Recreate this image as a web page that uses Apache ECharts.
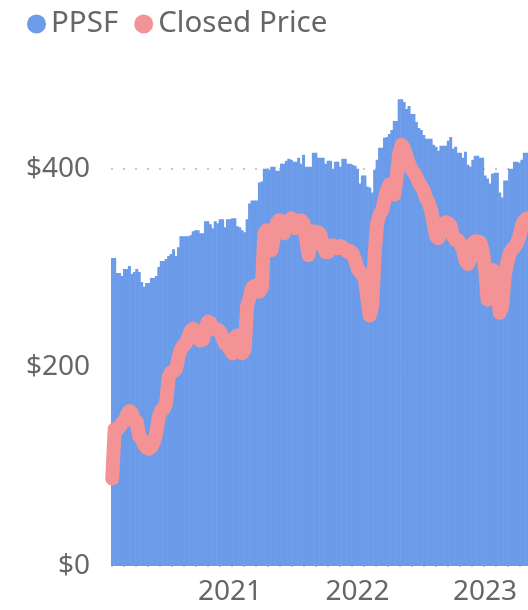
<!DOCTYPE html>
<html>
<head>
	<meta charset="utf-8">
	<script src="https://cdn.jsdelivr.net/npm/echarts@6/dist/echarts.min.js"></script>
	<style>
	   html,body{margin:0;padding:0;background:#fff;}
	   #chart{width:528px;height:610px;}
	</style>
	<title>PPSF</title>
</head>
<body>
	<div id="chart"></div>
	<script type="text/javascript">
		// weekly buckets, first week starts 2020-02-02
		var firstWeek = '2020-02-02';
		var yTicks = [0, 200, 400, 600];

		// price per square foot (bars)
		var ppsf = [310,310,295,295,292,299,299,302,294,296,
			299,296,286,281,285,285,290,290,292,301,
			307,307,309,312,314,319,312,321,332,332,
			332,332,333,337,338,338,335,335,347,347,
			344,340,347,345,349,349,341,349,349,350,
			350,342,341,338,336,349,365,368,368,368,
			386,387,400,400,399,402,402,398,398,405,
			405,408,410,409,407,407,411,405,414,402,
			402,402,416,416,411,411,411,405,408,408,
			400,407,407,402,410,410,405,405,404,403,
			400,385,393,393,382,381,376,399,409,421,
			421,431,432,435,439,448,448,470,470,467,
			460,463,455,455,447,441,439,434,430,430,
			430,424,422,418,423,423,423,428,432,420,
			422,416,416,411,417,404,402,409,413,413,
			411,411,393,390,385,395,396,396,376,371,
			388,388,400,400,407,407,406,409,416,416];

		// closed price (line)
		var closedPrice = [88,138,137,140,144,146,152,156,154,146,
			145,131,128,122,119,118,120,125,135,150,
			157,158,165,190,195,196,198,210,218,222,
			224,230,237,239,236,229,227,228,240,246,
			245,240,238,238,236,230,224,222,218,214,
			230,232,222,214,218,262,270,280,282,281,
			276,280,335,338,320,318,332,345,348,347,
			335,342,348,350,342,340,345,348,345,330,
			313,325,337,336,336,333,322,316,316,320,
			323,320,320,322,321,318,316,317,315,308,
			300,296,294,288,270,252,262,315,345,354,
			358,368,378,384,382,374,392,415,424,420,
			412,405,399,396,392,386,382,378,370,366,
			358,345,332,330,338,344,346,345,342,332,
			328,328,324,318,308,304,310,325,327,327,
			326,318,300,268,290,298,296,278,255,262,
			292,305,314,319,321,325,332,343,348,350];

		// build the week labels from the first week
		var weeks = [];
		var t0 = Date.parse(firstWeek + 'T00:00:00Z');
		for (var i = 0; i < ppsf.length; i++) {
			weeks.push(new Date(t0 + i * 7 * 86400000).toISOString().slice(0, 10));
		}

		var font = "'Segoe UI', 'Noto Sans', sans-serif";
		var myChart = echarts.init(document.getElementById('chart'));

		var option = {
			animation: false,
			legend: {
				left: 22,
				top: 4,
				icon: 'circle',
				itemWidth: 19,
				itemHeight: 19,
				itemGap: 16,
				textStyle: {fontSize: 29.5, color: '#666', fontFamily: font},
				data: ['PPSF', 'Closed Price']
			},
			grid: {
				left: 111,
				right: 0,
				top: -30, // $600 sits above the visible area
				bottom: 44,
				outerBoundsMode: 'none'
			},
			xAxis: {
				type: 'category',
				data: weeks,
				axisLine: {show: false},
				axisTick: {show: false},
				axisLabel: {
					fontSize: 28,
					color: '#666',
					fontFamily: font,
					margin: 12,
					interval: function (idx, val) {
						return val.slice(5, 7) === '01' && +val.slice(8, 10) <= 7;
					},
					formatter: function (val) { return val.slice(0, 4); }
				}
			},
			yAxis: {
				type: 'value',
				min: yTicks[0],
				max: yTicks[yTicks.length - 1],
				interval: 200,
				axisLine: {show: false},
				axisTick: {show: false},
				axisLabel: {
					fontSize: 28,
					color: '#666',
					fontFamily: font,
					margin: 21,
					formatter: '${value}'
				},
				splitLine: {
					lineStyle: {type: [2, 10], width: 2, color: '#c8c8c8'}
				}
			},
			series: [{
				name: 'PPSF',
				type: 'bar',
				data: ppsf,
				barWidth: 3,
				itemStyle: {color: '#6b9be9'}
			}, {
				name: 'Closed Price',
				type: 'line',
				data: closedPrice,
				symbol: 'none',
				itemStyle: {color: '#f49395'},
				lineStyle: {width: 14, color: '#f49395', cap: 'round', join: 'round'}
			}]
		};

		myChart.setOption(option);
	</script>
</body>
</html>
